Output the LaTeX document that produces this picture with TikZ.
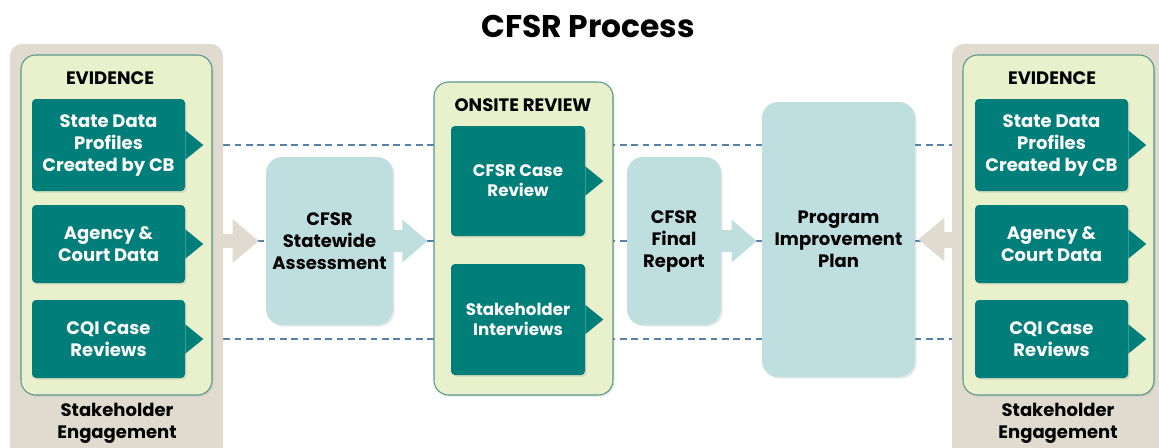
\documentclass[tikz,border=0pt]{standalone}
\usepackage{fontspec}
\setmainfont{Poppins}
\usepackage{xcolor}
\usetikzlibrary{arrows.meta,shadows,backgrounds}

\definecolor{tealc}{RGB}{0,126,122}
\definecolor{evgreen}{RGB}{232,240,204}
\definecolor{evedge}{RGB}{90,152,140}
\definecolor{panelgrey}{RGB}{224,218,207}
\definecolor{paleblue}{RGB}{191,222,224}
\definecolor{guideblue}{RGB}{86,130,170}

\begin{document}
\begin{tikzpicture}[x=0.75pt, y=-0.75pt, every node/.style={font=\bfseries},
  soft/.style={drop shadow={shadow xshift=1.2pt, shadow yshift=-1.2pt, opacity=0.18}},
  panel/.style={fill=panelgrey, rounded corners=9pt, minimum width=159.75pt, minimum height=319.5pt},
  evid/.style={draw=evedge, line width=0.8pt, fill=evgreen, rounded corners=11pt, soft},
  tbox/.style={fill=tealc, text=white, rounded corners=3pt, align=center, minimum width=114.75pt,
    font=\fontsize{13.5}{16.5}\selectfont\bfseries, soft},
  pbox/.style={fill=paleblue, rounded corners=12pt, align=center,
    font=\fontsize{13.5}{16.5}\selectfont\bfseries, soft},
  head/.style={align=center, font=\fontsize{13.5}{16.5}\selectfont\bfseries},
  guide/.style={draw=guideblue, line width=1.3pt, dash pattern=on 5pt off 3.5pt},
  bgarr/.style={draw=panelgrey, line width=11pt, -{Triangle[length=19.5pt,width=31.5pt]}},
  blarr/.style={draw=paleblue, line width=17pt, -{Triangle[length=18.75pt,width=30.75pt]}}]
\useasboundingbox (0,0) rectangle (1159,447);
\clip (0,0) rectangle (1159,447);

% Title
\node[font=\fontsize{23.5}{27}\selectfont\bfseries] (title) at (588,26.5) {CFSR Process};

% Stakeholder engagement panels
\node[panel] (lgrey) at (116.5,257) {};
\node[panel, minimum width=171pt] (rgrey) at (1066,257) {};
\node[evid, minimum width=143.25pt, minimum height=255pt] (levid) at (116.5,225) {};
\node[evid, minimum width=143.25pt, minimum height=255pt] (revid) at (1058.5,225) {};
\node[head] (ltitle) at (110,78) {EVIDENCE};
\node[head] (rtitle) at (1052,78) {EVIDENCE};
\node[head] (lstake) at (117,423) {Stakeholder\\Engagement};
\node[head] (rstake) at (1058,423) {Stakeholder\\Engagement};

% Evidence sources
\node[tbox, minimum height=69pt] (ls1) at (108.5,145) {State Data\\Profiles\\Created by CB};
\node[tbox, minimum height=58.5pt] (ls2) at (108.5,244) {Agency \&\\Court Data};
\node[tbox, minimum height=58.5pt] (ls3) at (108.5,339) {CQI Case\\Reviews};
\node[tbox, minimum height=69pt] (rs1) at (1051.5,145) {State Data\\Profiles\\Created by CB};
\node[tbox, minimum height=58.5pt] (rs2) at (1051.5,244) {Agency \&\\Court Data};
\node[tbox, minimum height=58.5pt] (rs3) at (1051.5,339) {CQI Case\\Reviews};

% Onsite review
\node[evid, minimum width=134.25pt, minimum height=234.75pt] (onsite) at (523.5,238.5) {};
\node[head] (ontitle) at (523,105) {ONSITE REVIEW};
\node[tbox, minimum width=100.5pt, minimum height=82.5pt, font=\fontsize{12.5}{15}\selectfont\bfseries] (case) at (518,181) {CFSR Case\\Review};
\node[tbox, minimum width=100.5pt, minimum height=83.25pt, font=\fontsize{12.5}{15}\selectfont\bfseries] (intv) at (518,319.5) {Stakeholder\\Interviews};

% Main steps
\node[pbox, minimum width=95.25pt, minimum height=126pt] (sw) at (329.5,241) {CFSR\\Statewide\\Assessment};
\node[pbox, minimum width=70.5pt, minimum height=126pt] (fr) at (674,241) {CFSR\\Final\\Report};
\node[pbox, minimum width=114.75pt, minimum height=206.25pt] (pip) at (838.5,239.5) {Program\\Improvement\\Plan};

% pointers on the teal boxes
\foreach \b in {ls1,ls2,ls3,rs1,rs2,rs3,case,intv}
  \fill[tealc] ([yshift=11pt]\b.east) -- ([xshift=13.5pt]\b.east) -- ([yshift=-11pt]\b.east) -- cycle;

% block arrows
\draw[bgarr] (lgrey.east |- sw.west) -- ([xshift=-5.25pt]sw.west);
\draw[blarr] (sw.east) -- ([xshift=-4.5pt]onsite.west |- sw.east);
\draw[blarr] (fr.east) -- ([xshift=-3.75pt]pip.west |- fr.east);
\draw[bgarr, line width=12pt] (rgrey.west |- pip.east) -- ([xshift=2.25pt]pip.east);

% dashed guides
\begin{scope}[on background layer]
\draw[guide] (lgrey.east |- ls1.east) -- (rgrey.west |- ls1.east);
\draw[guide] (lgrey.east |- ls3.east) -- (rgrey.west |- ls3.east);
\draw[guide, line width=0.8pt] (lgrey.east |- sw.east) -- (rgrey.west |- sw.east);
\end{scope}
\end{tikzpicture}
\end{document}
